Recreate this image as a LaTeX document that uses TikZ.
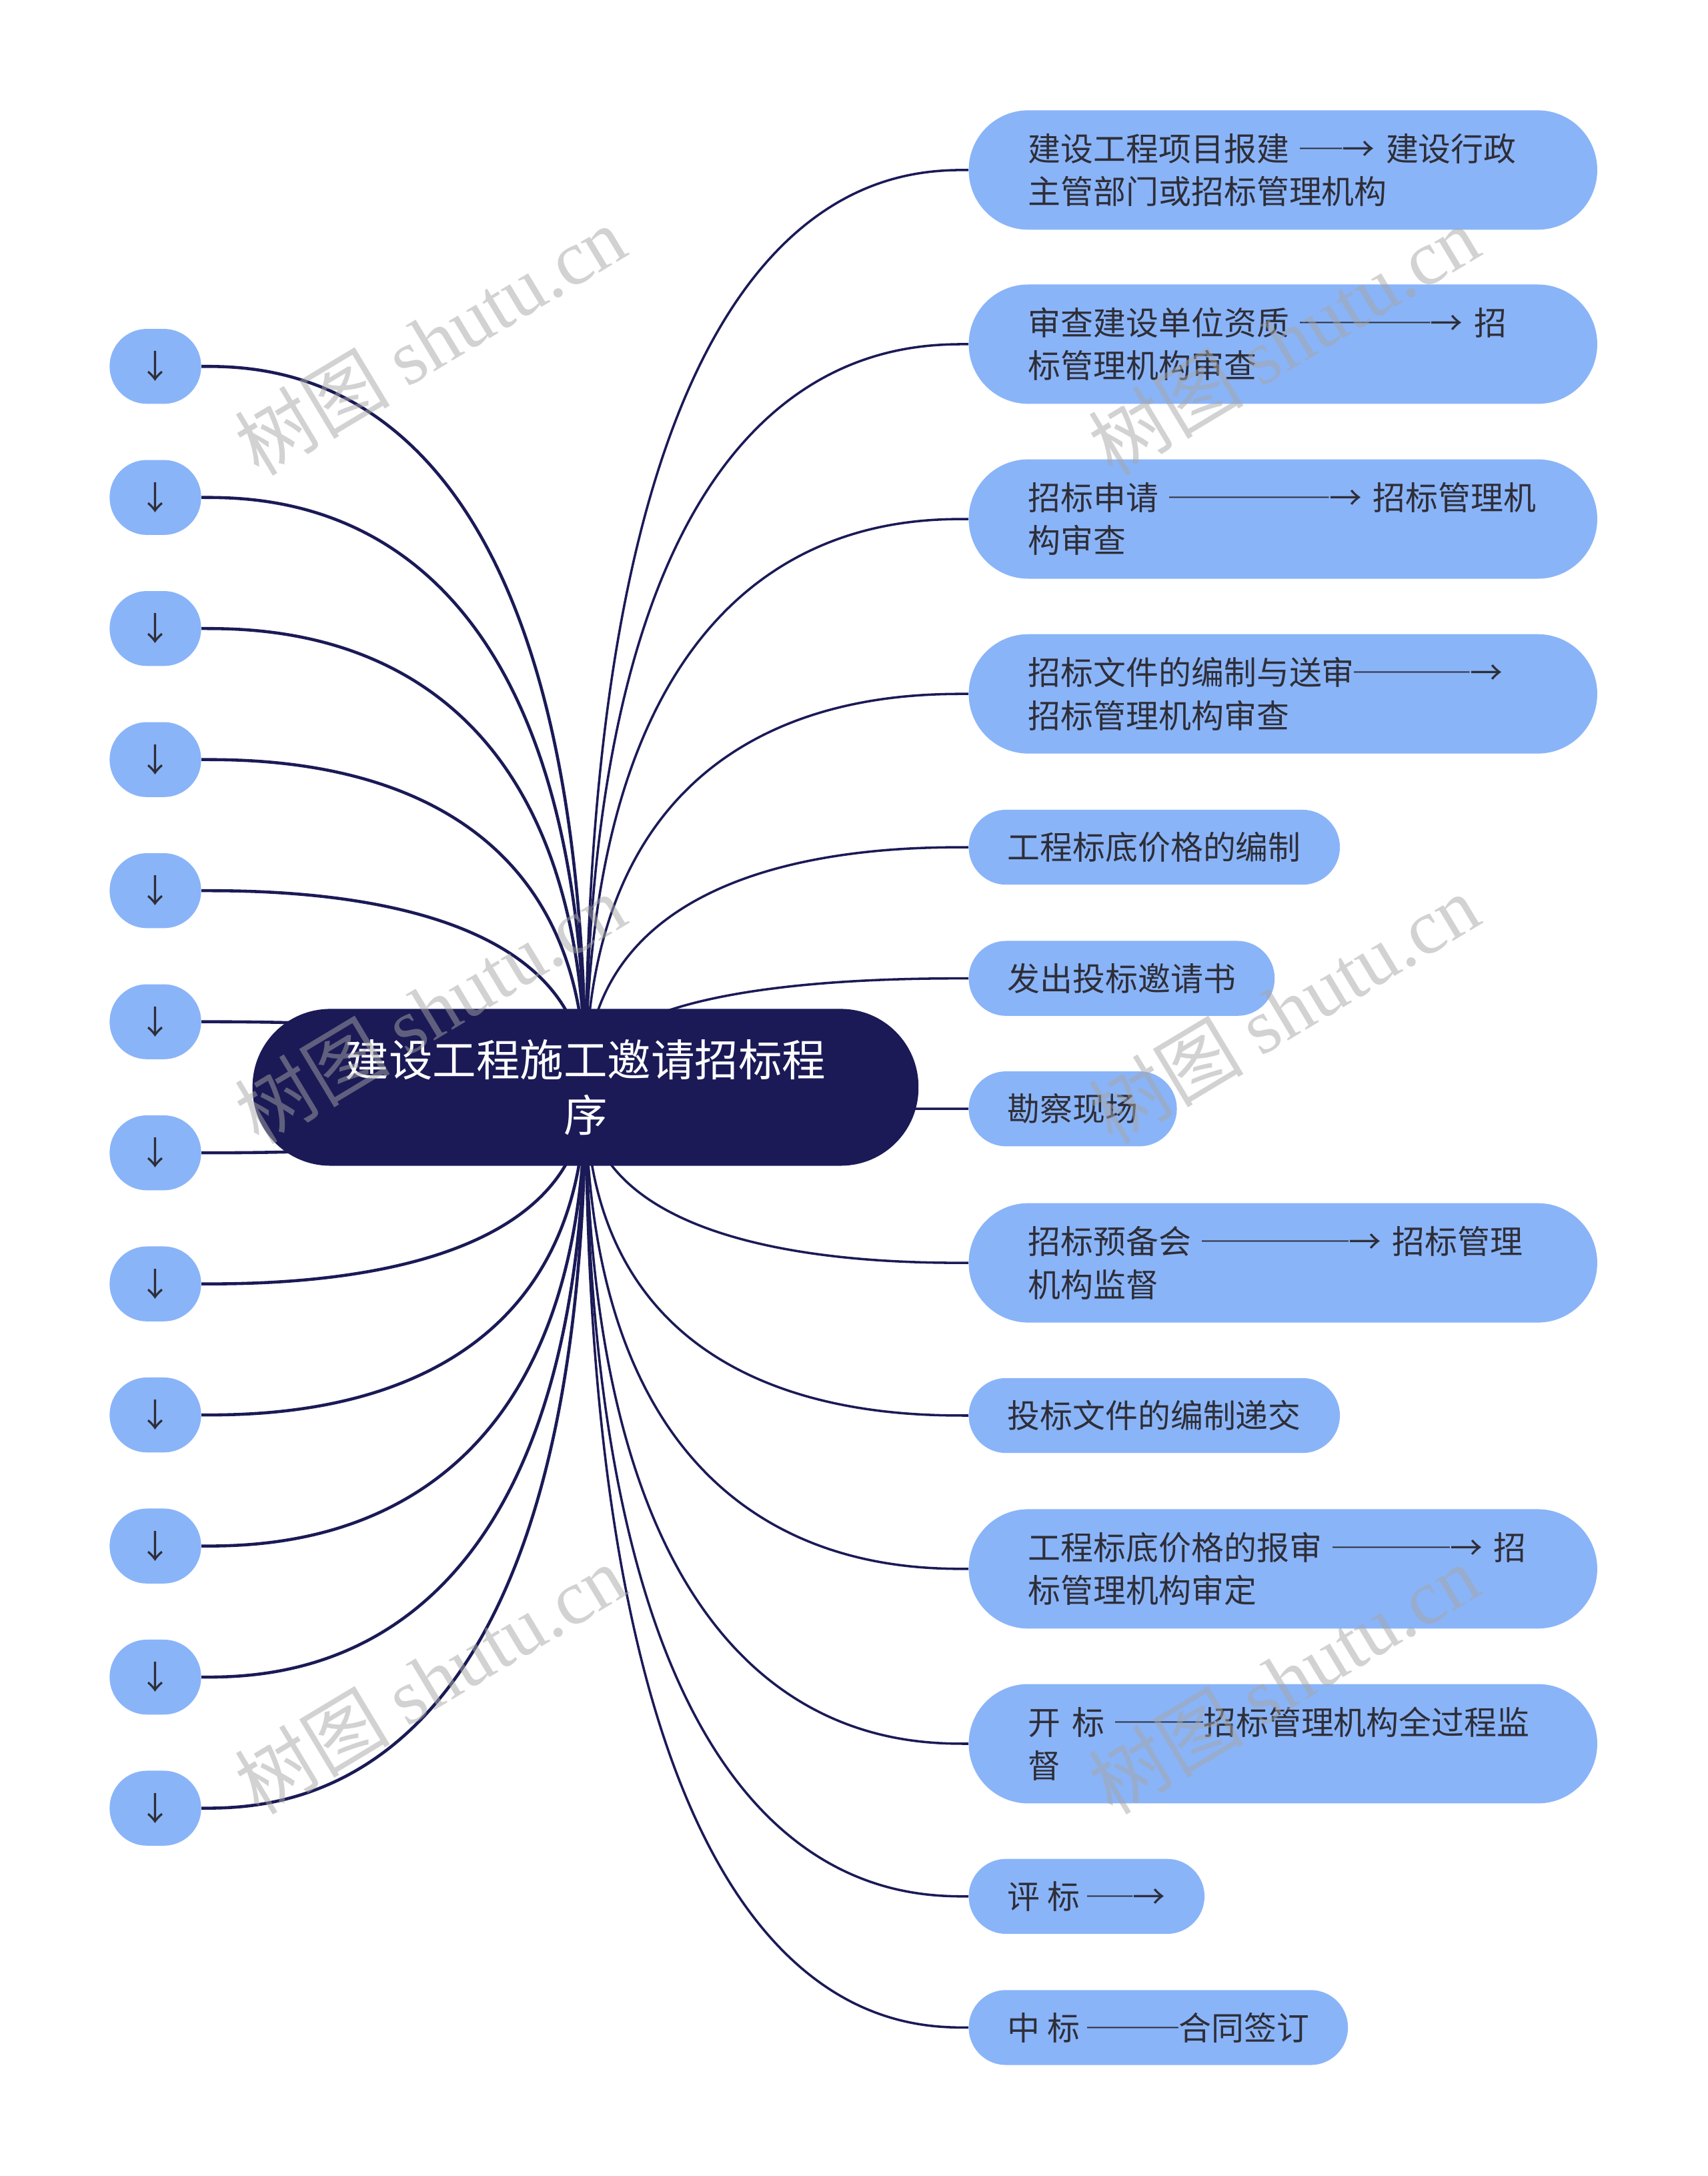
\documentclass[tikz,border=0pt]{standalone}
\usepackage{fontspec}
\usepackage{graphicx}
\setmainfont{Noto Sans CJK SC}
\newfontfamily\wmlatin{Liberation Serif}
\newfontfamily\wmcjk{Noto Sans CJK SC}
\usetikzlibrary{calc}
\definecolor{navy}{HTML}{1B1A57}
\definecolor{lblue}{HTML}{8AB4F8}
\definecolor{txt}{HTML}{2E2E38}
\pgfdeclarelayer{bg}\pgfdeclarelayer{fg}\pgfsetlayers{bg,main,fg}
\newcommand\dl[1]{\scalebox{#1}[1]{─}}
\begin{document}
\begin{tikzpicture}[x=1pt,y=-1pt,
  rootnode/.style={fill=navy, rounded corners=56pt, minimum width=480pt, minimum height=113pt,
    text=white, align=center, font=\fontsize{31.5}{40}\selectfont, inner sep=0pt},
  bignode/.style={fill=lblue, rounded corners=42.9pt, minimum width=453pt, minimum height=86pt,
    text width=367pt, inner xsep=43pt, inner ysep=0pt, align=left, text=txt,
    font=\fontsize{23.5}{31}\selectfont, anchor=west},
  smallnode/.style={fill=lblue, rounded corners=26.9pt, minimum height=54pt, inner xsep=28pt,
    inner ysep=0pt, text=txt, font=\fontsize{23.5}{31}\selectfont, anchor=west},
  leafnode/.style={fill=lblue, rounded corners=26.9pt, minimum width=66pt, minimum height=54pt,
    inner sep=0pt, text=txt, font=\fontsize{23.5}{31}\selectfont},
  conn/.style={draw=navy, line width=1.7pt},
  lconn/.style={draw=navy, line width=2.2pt},
  wm/.style={rotate=31, text=gray!70, text opacity=0.5, font=\fontsize{56}{56}\selectfont, inner sep=0pt}
]
\useasboundingbox (0,0) rectangle (1231,1568);

% root
\node[rootnode] (root) at (422,783.5) {建设工程施工邀请招标程\\序};

% right nodes
\node[bignode] (r1) at (698,122.5) {建设工程项目报建 \dl{1.3}→ 建设行政\\主管部门或招标管理机构};
\node[bignode] (r2) at (698,248) {审查建设单位资质 \dl{4}→ 招\\标管理机构审查};
\node[bignode] (r3) at (698,374) {招标申请 \dl{4.9}→ 招标管理机\\构审查};
\node[bignode] (r4) at (698,500) {招标文件的编制与送审\dl{3.55}→\\招标管理机构审查};
\node[smallnode] (r5) at (698,610.5) {工程标底价格的编制};
\node[smallnode] (r6) at (698,705) {发出投标邀请书};
\node[smallnode] (r7) at (698,799) {勘察现场};
\node[bignode] (r8) at (698,910) {招标预备会 \dl{4.5}→ 招标管理\\机构监督};
\node[smallnode] (r9) at (698,1020) {投标文件的编制递交};
\node[bignode] (r10) at (698,1130.5) {工程标底价格的报审 \dl{3.6}→ 招\\标管理机构审定};
\node[bignode] (r11) at (698,1256.5) {开 标 \dl{2.7}招标管理机构全过程监\\督};
\node[smallnode] (r12) at (698,1366.5) {评 标 \dl{1.4}→};
\node[smallnode] (r13) at (698,1461) {中 标 \dl{2.8}合同签订};

% left nodes
\foreach \i in {1,...,12} {
  \node[leafnode] (l\i) at (112,{264+94.45*(\i-1)}) {↓};
}

\begin{pgfonlayer}{bg}
  \fill[white] (0,0) rectangle (1231,1568);
  \foreach \n in {r1,r2,r3,r4,r5,r6,r7,r8,r9,r10,r11,r12,r13} {
    \draw[conn] (root.center) .. controls (root.center |- \n.west) and ($(root.center |- \n.west)!0.8!(\n.west)$) .. (\n.west);
  }
  \foreach \n in {l1,l2,l3,l4,l5,l6,l7,l8,l9,l10,l11,l12} {
    \draw[lconn] (root.center) .. controls (root.center |- \n.east) and ($(root.center |- \n.east)!0.8!(\n.east)$) .. (\n.east);
  }
\end{pgfonlayer}

\begin{pgfonlayer}{fg}
  \node[wm] (w1) at (310,245) {{\wmcjk 树图} {\wmlatin shutu.cn}};
  \node[wm] (w2) at (925,245) {{\wmcjk 树图} {\wmlatin shutu.cn}};
  \node[wm] (w3) at (310,727) {{\wmcjk 树图} {\wmlatin shutu.cn}};
  \node[wm] (w4) at (925,727) {{\wmcjk 树图} {\wmlatin shutu.cn}};
  \node[wm] (w5) at (310,1210) {{\wmcjk 树图} {\wmlatin shutu.cn}};
  \node[wm] (w6) at (925,1210) {{\wmcjk 树图} {\wmlatin shutu.cn}};
\end{pgfonlayer}
\end{tikzpicture}
\end{document}
